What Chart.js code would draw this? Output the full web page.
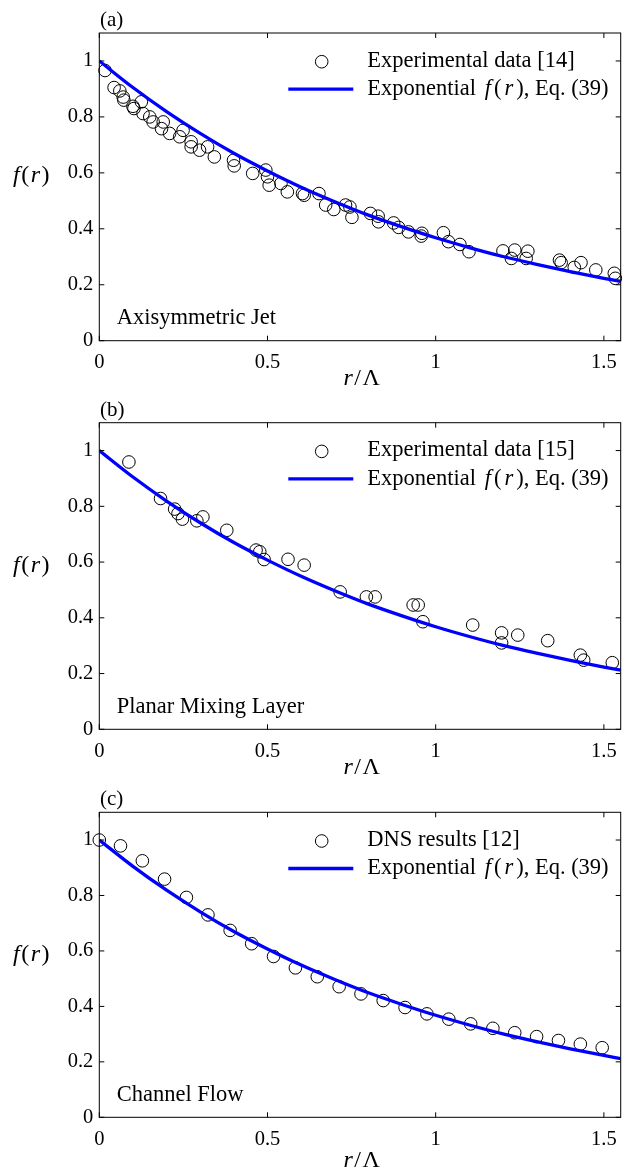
<!DOCTYPE html>
<html><head><meta charset="utf-8">
<script src="https://cdn.jsdelivr.net/npm/chart.js@4.4.1/dist/chart.umd.min.js"></script>
<style>
html,body{margin:0;padding:0;background:#fff;}
body{width:628px;height:1171px;position:relative;overflow:hidden;}
canvas{position:absolute;left:0;}
</style></head>
<body>
<canvas id="pa"></canvas>
<canvas id="pb"></canvas>
<canvas id="pc"></canvas>
<script>
// ---- tick values / labels ----
const xTicks = [0, 0.5, 1, 1.5];
const xTickLabels = ['0', '0.5', '1', '1.5'];
const yTicks = [0, 0.2, 0.4, 0.6, 0.8, 1];
const yTickLabels = ['0', '0.2', '0.4', '0.6', '0.8', '1'];
const xMax = 1.55, yMax = 1.1;

// ---- text ----
const panelLabels = ['(a)', '(b)', '(c)'];
const flowNames = ['Axisymmetric Jet', 'Planar Mixing Layer', 'Channel Flow'];
const dataNames = ['Experimental data [14]', 'Experimental data [15]', 'DNS results [12]'];
const fitLabelRuns = [['Exponential ', false], ['f', true], ['(', false], ['r', true], ['), Eq. (39)', false]];
const yTitleRuns = [['f', true], ['(', false], ['r', true], [')', false]];
const xTitleRuns = [['r', true], ['/', false], ['Λ', false]];

// ---- (a) Axisymmetric jet data ----
const jetR = [0.017,0.044,0.061,0.071,0.073,0.100,0.103,0.125,0.130,0.150,0.160,0.190,0.185,0.209,0.239,0.249,0.273,0.273,0.298,0.322,0.342,0.399,0.401,0.456,0.495,0.500,0.505,0.540,0.559,0.604,0.609,0.653,0.673,0.697,0.732,0.751,0.745,0.806,0.829,0.830,0.875,0.890,0.919,0.959,0.957,1.023,1.038,1.072,1.099,1.200,1.225,1.235,1.269,1.274,1.368,1.373,1.412,1.432,1.476,1.531,1.534];
const jetF = [0.966,0.905,0.893,0.871,0.860,0.838,0.830,0.854,0.812,0.800,0.782,0.782,0.758,0.741,0.729,0.752,0.711,0.693,0.681,0.693,0.657,0.645,0.625,0.598,0.610,0.586,0.556,0.562,0.532,0.526,0.520,0.526,0.485,0.469,0.485,0.441,0.478,0.455,0.445,0.425,0.421,0.405,0.389,0.384,0.374,0.386,0.354,0.344,0.318,0.321,0.294,0.324,0.294,0.320,0.288,0.279,0.262,0.279,0.253,0.241,0.223];

// ---- (b) Planar mixing layer data ----
const mixR = [0.088,0.182,0.224,0.234,0.247,0.290,0.308,0.379,0.466,0.477,0.490,0.561,0.609,0.716,0.794,0.820,0.933,0.948,0.962,1.110,1.196,1.196,1.244,1.333,1.430,1.440,1.525];
const mixF = [0.959,0.828,0.790,0.774,0.754,0.748,0.762,0.714,0.643,0.637,0.609,0.610,0.589,0.493,0.475,0.475,0.446,0.446,0.386,0.374,0.346,0.310,0.338,0.318,0.266,0.248,0.239];

// ---- (c) Channel flow DNS data ----
const chanR = [0,0.063,0.128,0.194,0.259,0.323,0.389,0.453,0.518,0.583,0.648,0.713,0.778,0.844,0.909,0.974,1.039,1.104,1.170,1.235,1.300,1.365,1.430,1.495];
const chanF = [1.000,0.979,0.925,0.859,0.793,0.730,0.674,0.626,0.580,0.539,0.507,0.471,0.445,0.421,0.396,0.373,0.354,0.337,0.321,0.305,0.291,0.277,0.264,0.251];

// ---- exponential fit curve ----
const fitR = [0,0.1,0.2,0.3,0.4,0.5,0.6,0.7,0.8,0.9,1.0,1.1,1.2,1.3,1.4,1.5,1.55];
const fitF = [1.000,0.905,0.819,0.741,0.670,0.607,0.549,0.497,0.449,0.407,0.368,0.333,0.301,0.273,0.247,0.223,0.212];

const SERIF = '"Liberation Serif", "Times New Roman", serif';

function drawRuns(ctx, runs, x, y, size, align, gap) {
  gap = gap || 0;
  let total = 0;
  const widths = runs.map(([t, it]) => { ctx.font = (it ? 'italic ' : '') + size + 'px ' + SERIF; const w = ctx.measureText(t).width; total += w; return w; });
  total += gap * (runs.length - 1);
  let cx = align === 'center' ? x - total / 2 : x;
  ctx.textAlign = 'left';
  runs.forEach(([t, it], i) => { ctx.font = (it ? 'italic ' : '') + size + 'px ' + SERIF; ctx.fillText(t, cx, y); cx += widths[i] + gap; });
}

const panels = [
  {id: 'pa', top: 0,   h: 390, padTop: 33.0, bottom: 340.7, r: jetR,  f: jetF, xTitleOff: 44},
  {id: 'pb', top: 390, h: 390, padTop: 32.7, bottom: 339.3, r: mixR,  f: mixF, xTitleOff: 45},
  {id: 'pc', top: 780, h: 391, padTop: 32.3, bottom: 337.3, r: chanR, f: chanF, xTitleOff: 50}
];

panels.forEach((p, idx) => {
  const cv = document.getElementById(p.id);
  cv.width = 628; cv.height = p.h;
  cv.style.top = p.top + 'px'; cv.style.width = '628px'; cv.style.height = p.h + 'px';

  const decor = {
    id: 'decor' + idx,
    afterDraw(chart) {
      const {ctx, chartArea: a, scales: {x, y}} = chart;
      ctx.save();
      // frame
      ctx.strokeStyle = '#000'; ctx.lineWidth = 1;
      ctx.strokeRect(a.left, a.top, a.right - a.left, a.bottom - a.top);
      // inward ticks on all four sides
      const L = 5;
      ctx.beginPath();
      xTicks.forEach(v => { const px = x.getPixelForValue(v);
        ctx.moveTo(px, a.bottom); ctx.lineTo(px, a.bottom - L);
        ctx.moveTo(px, a.top); ctx.lineTo(px, a.top + L); });
      yTicks.forEach(v => { const py = y.getPixelForValue(v);
        ctx.moveTo(a.left, py); ctx.lineTo(a.left + L, py);
        ctx.moveTo(a.right, py); ctx.lineTo(a.right - L, py); });
      ctx.stroke();
      // legend
      ctx.fillStyle = '#000';
      ctx.textBaseline = 'alphabetic';
      ctx.beginPath(); ctx.lineWidth = 1;
      ctx.arc(321.7, a.top + 28.7, 6.3, 0, Math.PI * 2); ctx.stroke();
      ctx.beginPath(); ctx.strokeStyle = '#0000ff'; ctx.lineWidth = 3.3;
      ctx.moveTo(288.3, a.top + 56.2); ctx.lineTo(353.3, a.top + 56.2); ctx.stroke();
      drawRuns(ctx, [[dataNames[idx], false]], 367.3, a.top + 33.5, 22.5, 'left');
      drawRuns(ctx, fitLabelRuns, 367.3, a.top + 62, 22.5, 'left', 3);
      // panel label
      drawRuns(ctx, [[panelLabels[idx], false]], 100, a.top - 7, 21, 'left');
      // flow name
      drawRuns(ctx, [[flowNames[idx], false]], 116.7, a.bottom - 16.5, 22.5, 'left');
      // axis titles
      drawRuns(ctx, yTitleRuns, 13, a.top + 149, 24, 'left', 1.5);
      drawRuns(ctx, xTitleRuns, 361.7, a.bottom + p.xTitleOff, 24, 'center', 1.5);
      ctx.restore();
    }
  };

  new Chart(cv, {
    type: 'scatter',
    data: {
      datasets: [
        {
          type: 'line', label: 'fit', order: 0,
          data: fitR.map((r, i) => ({x: r, y: fitF[i]})),
          borderColor: '#0000ff', borderWidth: 3.3, pointRadius: 0,
          tension: 0.4, cubicInterpolationMode: 'monotone', fill: false
        },
        {
          label: dataNames[idx], order: 1,
          data: p.r.map((r, i) => ({x: r, y: p.f[i]})),
          pointStyle: 'circle', pointRadius: 6.3, pointBorderWidth: 1,
          borderColor: '#000', backgroundColor: 'rgba(0,0,0,0)', clip: false
        }
      ]
    },
    options: {
      responsive: false, animation: false, devicePixelRatio: 1,
      layout: {padding: {left: 0, right: 4.7, top: p.padTop, bottom: 0}},
      plugins: {legend: {display: false}, tooltip: {enabled: false}},
      scales: {
        x: {
          type: 'linear', min: 0, max: xMax,
          grid: {display: false, drawTicks: false}, border: {display: false},
          afterBuildTicks: s => { s.ticks = xTicks.map(v => ({value: v})); },
          afterFit: s => { s.height = p.h - p.bottom; },
          ticks: {color: '#000', padding: 10, maxRotation: 0, autoSkip: false,
                  font: {family: SERIF, size: 20.5},
                  callback: (v) => xTickLabels[xTicks.indexOf(v)] ?? ''}
        },
        y: {
          type: 'linear', min: 0, max: yMax,
          grid: {display: false, drawTicks: false}, border: {display: false},
          afterBuildTicks: s => { s.ticks = yTicks.map(v => ({value: v})); },
          afterFit: s => { s.width = 99.3; },
          ticks: {color: '#000', padding: 6, autoSkip: false,
                  font: {family: SERIF, size: 20.5},
                  callback: (v) => yTickLabels[yTicks.indexOf(v)] ?? ''}
        }
      }
    },
    plugins: [decor]
  });
});
</script>
</body></html>
